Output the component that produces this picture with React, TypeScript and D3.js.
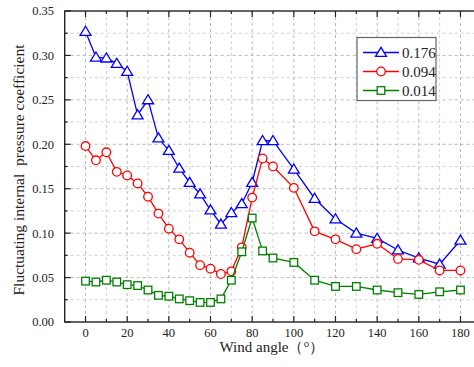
import * as d3 from 'd3'

const angles = [0, 5, 10, 15, 20, 25, 30, 35, 40, 45, 50, 55, 60, 65, 70, 75, 80, 85, 90, 100, 110, 120, 130, 140, 150, 160, 170, 180]
const blue176 = [0.327, 0.298, 0.297, 0.291, 0.282, 0.233, 0.25, 0.207, 0.193, 0.173, 0.157, 0.144, 0.126, 0.11, 0.123, 0.133, 0.157, 0.204, 0.204, 0.172, 0.139, 0.116, 0.1, 0.094, 0.081, 0.072, 0.065, 0.092]
const red094 = [0.198, 0.182, 0.191, 0.169, 0.165, 0.156, 0.141, 0.122, 0.105, 0.093, 0.078, 0.064, 0.06, 0.054, 0.057, 0.084, 0.14, 0.184, 0.175, 0.151, 0.102, 0.093, 0.082, 0.088, 0.071, 0.07, 0.058, 0.058]
const green014 = [0.046, 0.045, 0.047, 0.045, 0.042, 0.041, 0.036, 0.03, 0.029, 0.026, 0.024, 0.022, 0.022, 0.026, 0.047, 0.079, 0.117, 0.08, 0.072, 0.067, 0.047, 0.04, 0.04, 0.036, 0.033, 0.031, 0.034, 0.036]
const seriesNames = ['0.176', '0.094', '0.014']
const xTicks = [0, 20, 40, 60, 80, 100, 120, 140, 160, 180]
const yTicks = [0, 0.05, 0.1, 0.15, 0.2, 0.25, 0.3, 0.35]

const W = 474
const H = 367
const LEFT = 64.7
const RIGHT = 481.3
const TOP = 11
const BOTTOM = 322
const SERIF = '"Liberation Serif", "Times New Roman", serif'

type Marker = 'tri' | 'circle' | 'square'

const MarkerShape = ({kind, x, y, color}: {kind: Marker; x: number; y: number; color: string}) => {
  if (kind === 'tri') {
    const s = 5.2
    return (
      <path
        d={`M${x},${y - s} L${x + s * 1.05},${y + s * 0.75} L${x - s * 1.05},${y + s * 0.75} Z`}
        fill="white"
        stroke={color}
        strokeWidth={1.3}
      />
    )
  }
  if (kind === 'circle') {
    return <circle cx={x} cy={y} r={4.3} fill="white" stroke={color} strokeWidth={1.3} />
  }
  return <rect x={x - 3.8} y={y - 3.8} width={7.6} height={7.6} fill="white" stroke={color} strokeWidth={1.3} />
}

export default function App() {
  const xScale = d3.scaleLinear().domain([-10, 190]).range([LEFT, RIGHT])
  const yScale = d3.scaleLinear().domain([0, 0.35]).range([BOTTOM, TOP])

  const series = [
    {name: seriesNames[0], values: blue176, color: '#0000ff', marker: 'tri' as Marker},
    {name: seriesNames[1], values: red094, color: '#ff0000', marker: 'circle' as Marker},
    {name: seriesNames[2], values: green014, color: '#008000', marker: 'square' as Marker},
  ]

  const line = d3
    .line<number>()
    .x((_, i) => xScale(angles[i]))
    .y(d => yScale(d))

  // grid at every 10 deg and every 0.025
  const xGrid = d3.range(0, 191, 10)
  const yGrid = d3.range(0.025, 0.35, 0.025)

  const legendX = 357
  const legendY = 37.5
  const legendRows = [52.5, 71.5, 90.5]

  return (
    <svg width={W} height={H} style={{position: 'absolute', left: 0, top: 0}}>
      <rect width={W} height={H} fill="white" />
      {xGrid.map(v => (
        <line
          key={'gx' + v}
          x1={xScale(v)}
          x2={xScale(v)}
          y1={TOP}
          y2={BOTTOM}
          stroke={v % 20 === 0 ? '#a8a8a8' : '#c4c4c4'}
          strokeWidth={0.8}
          strokeDasharray="3,3"
        />
      ))}
      {yGrid.map((v, i) => (
        <line
          key={'gy' + i}
          x1={LEFT}
          x2={RIGHT}
          y1={yScale(v)}
          y2={yScale(v)}
          stroke={i % 2 === 1 ? '#a8a8a8' : '#c4c4c4'}
          strokeWidth={0.8}
          strokeDasharray="3,3"
        />
      ))}

      {/* frame */}
      <rect x={LEFT} y={TOP} width={RIGHT - LEFT} height={BOTTOM - TOP} fill="none" stroke="#222" strokeWidth={1.4} />

      {/* ticks, inward */}
      {d3.range(0, 191, 10).map(v => {
        const len = v % 20 === 0 ? 6 : 3
        return (
          <g key={'tx' + v}>
            <line x1={xScale(v)} x2={xScale(v)} y1={BOTTOM} y2={BOTTOM - len} stroke="#222" strokeWidth={1.2} />
            <line x1={xScale(v)} x2={xScale(v)} y1={TOP} y2={TOP + len} stroke="#222" strokeWidth={1.2} />
          </g>
        )
      })}
      {d3.range(0, 15).map(k => {
        const v = k * 0.025
        const len = k % 2 === 0 ? 6 : 3
        return <line key={'ty' + k} x1={LEFT} x2={LEFT + len} y1={yScale(v)} y2={yScale(v)} stroke="#222" strokeWidth={1.2} />
      })}

      {xTicks.map(v => (
        <text key={'lx' + v} x={xScale(v)} y={337} textAnchor="middle" fontFamily={SERIF} fontSize={12.5} fill="#222">
          {v}
        </text>
      ))}
      {yTicks.map(v => (
        <text
          key={'ly' + v}
          x={54}
          y={yScale(v)}
          dy="0.35em"
          textAnchor="end"
          fontFamily={SERIF}
          fontSize={12.5}
          fill="#222">
          {v.toFixed(2)}
        </text>
      ))}

      <text x={272} y={352} textAnchor="middle" fontFamily={SERIF} fontSize={15} fill="#222">
        Wind angle（°）
      </text>
      <text
        transform={`translate(24,170) rotate(-90)`}
        textAnchor="middle"
        fontFamily={SERIF}
        fontSize={15.5}
        fill="#222"
        style={{whiteSpace: 'pre'}}>
        {'Fluctuating internal  pressure coefficient'}
      </text>

      {series.map(s => (
        <g key={s.name}>
          <path d={line(s.values) || ''} fill="none" stroke={s.color} strokeWidth={1.3} />
          {s.values.map((v, i) => (
            <MarkerShape key={i} kind={s.marker} x={xScale(angles[i])} y={yScale(v)} color={s.color} />
          ))}
        </g>
      ))}

      {/* legend */}
      <rect x={legendX} y={legendY} width={79} height={63} fill="white" stroke="#666" strokeWidth={1.2} />
      {series.map((s, i) => (
        <g key={'lg' + s.name}>
          <line x1={363} x2={399} y1={legendRows[i]} y2={legendRows[i]} stroke={s.color} strokeWidth={1.5} />
          <MarkerShape kind={s.marker} x={381} y={legendRows[i]} color={s.color} />
          <text x={402} y={legendRows[i]} dy="0.36em" fontFamily={SERIF} fontSize={15} fill="#222">
            {s.name}
          </text>
        </g>
      ))}
    </svg>
  )
}
